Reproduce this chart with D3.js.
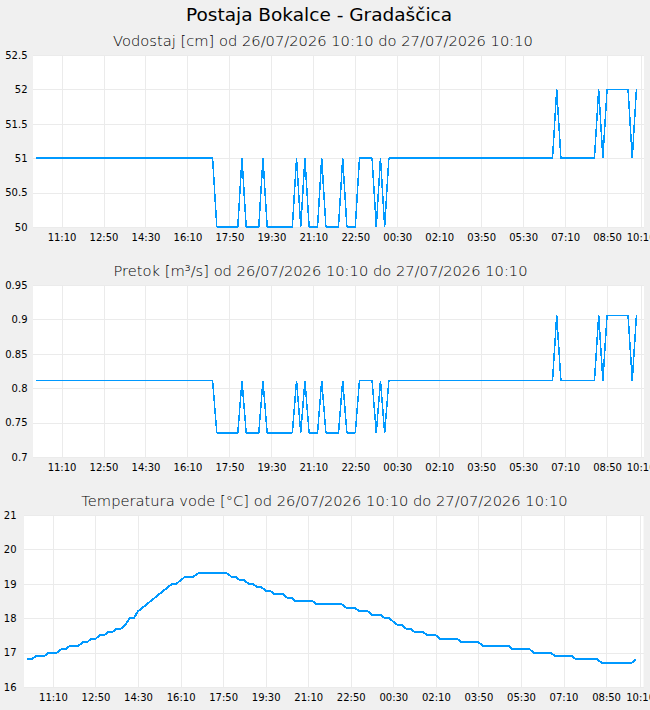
<!DOCTYPE html>
<html>
<head>
<meta charset="utf-8">
<script src="https://cdn.jsdelivr.net/npm/d3@7"></script>
<style>
  html, body { margin: 0; padding: 0; background: #f0f0f0; }
  svg { display: block; }
</style>
</head>
<body>
<svg id="chart" width="650" height="710"></svg>
<script>
// ---------------- DATA ----------------
const mainTitle = "Postaja Bokalce - Gradaščica";
const chartTitles = [
  "Vodostaj [cm] od 26/07/2026 10:10 do 27/07/2026 10:10",
  "Pretok [m³/s] od 26/07/2026 10:10 do 27/07/2026 10:10",
  "Temperatura vode [°C] od 26/07/2026 10:10 do 27/07/2026 10:10"
];
// samples every 10 minutes starting 26/07/2026 10:10
const sampleStart = [2026, 6, 26, 10, 10];
const sampleStepMinutes = 10;

const waterLevel = [
  51,51,51,51,51,51,51,51,51,51,51,51,
  51,51,51,51,51,51,51,51,51,51,51,51,
  51,51,51,51,51,51,51,51,51,51,51,51,
  51,51,51,51,51,51,51,50,50,50,50,50,
  50,51,50,50,50,50,51,50,50,50,50,50,
  50,50,51,50,51,50,50,50,51,50,50,50,
  50,51,50,50,50,51,51,51,51,50,51,50,
  51,51,51,51,51,51,51,51,51,51,51,51,
  51,51,51,51,51,51,51,51,51,51,51,51,
  51,51,51,51,51,51,51,51,51,51,51,51,
  51,51,51,51,52,51,51,51,51,51,51,51,
  51,51,52,51,52,52,52,52,52,52,51,52
];

const discharge = [
  0.811,0.811,0.811,0.811,0.811,0.811,0.811,0.811,0.811,0.811,0.811,0.811,
  0.811,0.811,0.811,0.811,0.811,0.811,0.811,0.811,0.811,0.811,0.811,0.811,
  0.811,0.811,0.811,0.811,0.811,0.811,0.811,0.811,0.811,0.811,0.811,0.811,
  0.811,0.811,0.811,0.811,0.811,0.811,0.811,0.735,0.735,0.735,0.735,0.735,
  0.735,0.811,0.735,0.735,0.735,0.735,0.811,0.735,0.735,0.735,0.735,0.735,
  0.735,0.735,0.811,0.735,0.811,0.735,0.735,0.735,0.811,0.735,0.735,0.735,
  0.735,0.811,0.735,0.735,0.735,0.811,0.811,0.811,0.811,0.735,0.811,0.735,
  0.811,0.811,0.811,0.811,0.811,0.811,0.811,0.811,0.811,0.811,0.811,0.811,
  0.811,0.811,0.811,0.811,0.811,0.811,0.811,0.811,0.811,0.811,0.811,0.811,
  0.811,0.811,0.811,0.811,0.811,0.811,0.811,0.811,0.811,0.811,0.811,0.811,
  0.811,0.811,0.811,0.811,0.906,0.811,0.811,0.811,0.811,0.811,0.811,0.811,
  0.811,0.811,0.906,0.811,0.906,0.906,0.906,0.906,0.906,0.906,0.811,0.906
];

const waterTemp = [
  16.8,16.8,16.9,16.9,16.9,17.0,17.0,17.0,17.1,17.1,17.2,17.2,
  17.2,17.3,17.3,17.4,17.4,17.5,17.5,17.6,17.6,17.7,17.7,17.8,
  18.0,18.0,18.2,18.3,18.4,18.5,18.6,18.7,18.8,18.9,19.0,19.0,
  19.1,19.2,19.2,19.2,19.3,19.3,19.3,19.3,19.3,19.3,19.3,19.3,
  19.2,19.2,19.1,19.1,19.0,19.0,18.9,18.9,18.8,18.8,18.7,18.7,
  18.7,18.6,18.6,18.5,18.5,18.5,18.5,18.5,18.4,18.4,18.4,18.4,
  18.4,18.4,18.4,18.3,18.3,18.3,18.2,18.2,18.2,18.1,18.1,18.1,
  18.0,18.0,17.9,17.8,17.8,17.7,17.7,17.6,17.6,17.6,17.5,17.5,
  17.5,17.4,17.4,17.4,17.4,17.4,17.3,17.3,17.3,17.3,17.3,17.2,
  17.2,17.2,17.2,17.2,17.2,17.2,17.1,17.1,17.1,17.1,17.1,17.0,
  17.0,17.0,17.0,17.0,16.9,16.9,16.9,16.9,16.9,16.8,16.8,16.8,
  16.8,16.8,16.8,16.7,16.7,16.7,16.7,16.7,16.7,16.7,16.7,16.8
];

const xTickTimes = [
  [26,11,10],[26,12,50],[26,14,30],[26,16,10],[26,17,50],[26,19,30],[26,21,10],[26,22,50],
  [27,0,30],[27,2,10],[27,3,50],[27,5,30],[27,7,10],[27,8,50],[27,10,10]
];
const xTickLabels = ["11:10","12:50","14:30","16:10","17:50","19:30","21:10","22:50",
  "00:30","02:10","03:50","05:30","07:10","08:50","10:10"];

const levelTicks = [50, 50.5, 51, 51.5, 52, 52.5];
const dischargeTicks = [0.7, 0.75, 0.8, 0.85, 0.9, 0.95];
const tempTicks = [16, 17, 18, 19, 20, 21];

// ---------------- LAYOUT ----------------
const svg = d3.select("#chart");
const FONT = "'DejaVu Sans', 'Liberation Sans', sans-serif";
const LINE_COLOR = "#0099ff";
const GRID_COLOR = "#ebebeb";

svg.append("rect").attr("width", 650).attr("height", 710).attr("fill", "#f0f0f0");

svg.append("text")
  .attr("x", 319).attr("y", 21)
  .attr("text-anchor", "middle")
  .attr("font-family", FONT).attr("font-size", "18.5px")
  .attr("fill", "#000")
  .text(mainTitle);

const mkDate = (d, h, m) => new Date(2026, 6, d, h, m);
const times = waterLevel.map((_, i) =>
  new Date(sampleStart[0], sampleStart[1], sampleStart[2], sampleStart[3], sampleStart[4] + i * sampleStepMinutes));
const domainStart = mkDate(26, 10, 2);
const domainEnd = mkDate(27, 10, 18);

const panels = [
  { title: chartTitles[0], values: waterLevel, yDomain: [50, 52.5], yTicks: levelTicks,
    top: 55, bottom: 227, left: 33, right: 644, pad: 5.5, titleX: 323, titleY: 45.5, width: 1.5 },
  { title: chartTitles[1], values: discharge, yDomain: [0.7, 0.95], yTicks: dischargeTicks,
    top: 285, bottom: 457, left: 33, right: 644, pad: 5.5, titleX: 320.5, titleY: 275.5, width: 1.5 },
  { title: chartTitles[2], values: waterTemp, yDomain: [16, 21], yTicks: tempTicks,
    top: 515, bottom: 687, left: 24, right: 643.5, pad: 7.5, titleX: 324.5, titleY: 505.5, width: 2 }
];

panels.forEach(p => {
  const g = svg.append("g");
  const x = d3.scaleTime().domain([domainStart, domainEnd]).range([p.left, p.right]);
  const y = d3.scaleLinear().domain(p.yDomain).range([p.bottom, p.top]);
  const tickDates = xTickTimes.map(t => mkDate(t[0], t[1], t[2]));

  // title
  g.append("text")
    .attr("x", p.titleX).attr("y", p.titleY)
    .attr("text-anchor", "middle")
    .attr("font-family", FONT).attr("font-size", "14.7px").attr("font-weight", 200)
    .attr("fill", "#000")
    .text(p.title);

  // plot background
  g.append("rect")
    .attr("x", p.left).attr("y", p.top)
    .attr("width", p.right - p.left).attr("height", p.bottom - p.top)
    .attr("fill", "#fff");

  // grid lines
  const vgrid = g.append("g").attr("transform", `translate(0,${p.bottom})`)
    .call(d3.axisBottom(x).tickValues(tickDates).tickSize(-(p.bottom - p.top)).tickFormat(""));
  vgrid.select(".domain").remove();
  vgrid.selectAll("line").attr("stroke", GRID_COLOR).attr("shape-rendering", "crispEdges");

  const hgrid = g.append("g").attr("transform", `translate(${p.left},0)`)
    .call(d3.axisLeft(y).tickValues(p.yTicks).tickSize(-(p.right - p.left)).tickFormat(""));
  hgrid.select(".domain").remove();
  hgrid.selectAll("line").attr("stroke", GRID_COLOR).attr("shape-rendering", "crispEdges");

  // axes labels
  const xa = g.append("g").attr("transform", `translate(0,${p.bottom})`)
    .call(d3.axisBottom(x).tickValues(tickDates).tickSize(0).tickPadding(7)
      .tickFormat((d, i) => xTickLabels[i]));
  xa.select(".domain").remove();
  xa.attr("font-family", FONT).attr("font-size", 10);
  xa.selectAll("text").attr("fill", "#000");

  const ya = g.append("g").attr("transform", `translate(${p.left},0)`)
    .call(d3.axisLeft(y).tickValues(p.yTicks).tickSize(0).tickPadding(p.pad)
      .tickFormat(d => String(d)));
  ya.select(".domain").remove();
  ya.attr("font-family", FONT).attr("font-size", 10);
  ya.selectAll("text").attr("fill", "#000");

  // data line
  const line = d3.line()
    .x((d, i) => x(times[i]))
    .y(d => y(d));
  g.append("path")
    .datum(p.values)
    .attr("d", line)
    .attr("fill", "none")
    .attr("stroke", LINE_COLOR)
    .attr("stroke-width", p.width)
    .attr("stroke-linejoin", "bevel")
    .attr("shape-rendering", "crispEdges");
});
</script>
</body>
</html>
